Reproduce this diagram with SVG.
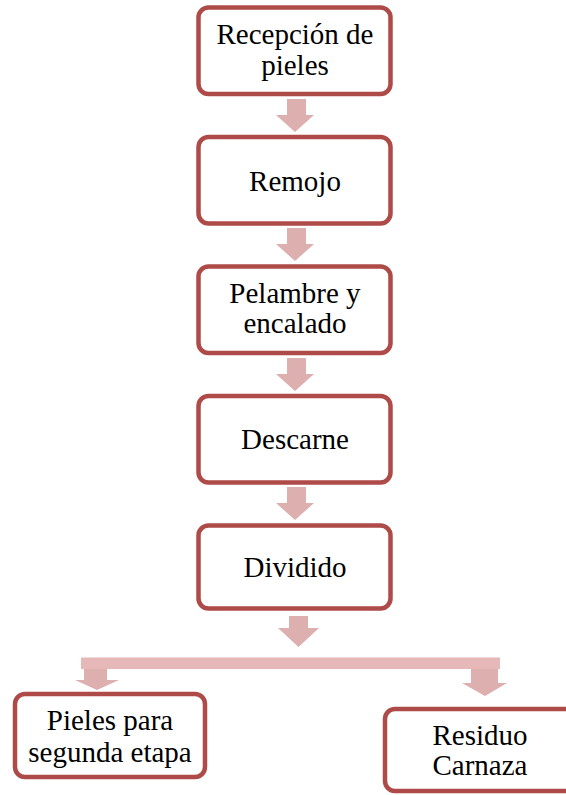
<svg xmlns="http://www.w3.org/2000/svg" width="566" height="795" viewBox="0 0 566 795">
<style>
.box{fill:#ffffff;stroke:#ae4b48;stroke-width:4.5}
.lbl{font-family:"Liberation Serif","Times New Roman",serif;font-size:29px;fill:#000;text-anchor:middle}
.arr{fill:#ddafaf}
.bar{fill:#e6b8b7}
</style>
<rect width="566" height="795" fill="#ffffff"/>
<g id="connectors">
<polygon class="arr" points="287,99 306,99 306,115 314,115 295,132 276,115 287,115"/>
<polygon class="arr" points="287,228 306,228 306,244 314,244 295,261 276,244 287,244"/>
<polygon class="arr" points="287,358 306,358 306,374 314,374 295,391 276,374 287,374"/>
<polygon class="arr" points="287,487 306,487 306,503 314,503 295,520 276,503 287,503"/>
<polygon class="arr" points="289,616 308,616 308,628 319,628 298.5,647 278,628 289,628"/>
<rect class="bar" x="81" y="657.5" width="419" height="11.5"/>
<polygon class="arr" points="84,669 107,669 107,680 119,680 97,690 75,680 84,680"/>
<polygon class="arr" points="471,669 498,669 498,683 507,683 485,696 462,683 471,683"/>
</g>
<g id="n1">
<rect class="box" x="198.5" y="7.5" width="192" height="86.5" rx="10"/>
<text class="lbl" x="295" y="44">Recepción de</text>
<text class="lbl" x="295" y="75">pieles</text>
</g>
<g id="n2">
<rect class="box" x="198.5" y="137" width="192" height="86.5" rx="10"/>
<text class="lbl" x="295" y="191">Remojo</text>
</g>
<g id="n3">
<rect class="box" x="198.5" y="266.5" width="192" height="86.5" rx="10"/>
<text class="lbl" x="295" y="303">Pelambre y</text>
<text class="lbl" x="295" y="333">encalado</text>
</g>
<g id="n4">
<rect class="box" x="198.5" y="396" width="192" height="86.5" rx="10"/>
<text class="lbl" x="295" y="449">Descarne</text>
</g>
<g id="n5">
<rect class="box" x="198.5" y="525.5" width="192" height="83" rx="10"/>
<text class="lbl" x="295" y="577">Dividido</text>
</g>
<g id="n6">
<rect class="box" x="15" y="694" width="190" height="83" rx="10"/>
<text class="lbl" x="110" y="730">Pieles para</text>
<text class="lbl" x="110" y="762">segunda etapa</text>
</g>
<g id="n7">
<rect class="box" x="385" y="709" width="190" height="82" rx="10"/>
<text class="lbl" x="480" y="745">Residuo</text>
<text class="lbl" x="480" y="775">Carnaza</text>
</g>
</svg>
